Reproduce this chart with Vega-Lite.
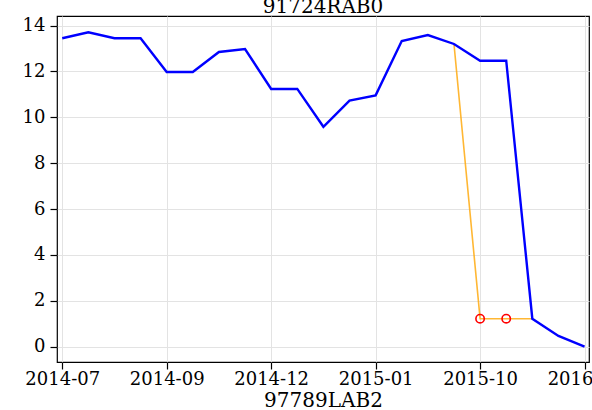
{
  "$schema": "https://vega.github.io/schema/vega-lite/v6.json",
  "width": 532,
  "height": 346,
  "autosize": {"type": "none"},
  "padding": {"left": 57, "top": 16, "right": 3, "bottom": 48},
  "background": "white",
  "title": {"text": "91724RAB0", "fontSize": 20, "font": "DejaVu Serif", "fontWeight": "normal", "baseline": "alphabetic", "offset": 3, "dy": 20, "color": "black"},
  "config": {
    "view": {"stroke": "black", "strokeWidth": 1.2},
    "axis": {
      "domain": false,
      "tickColor": "black",
      "tickSize": 7,
      "tickWidth": 1.2,
      "labelFont": "DejaVu Serif",
      "labelFontSize": 18,
      "labelColor": "black",
      "labelPadding": 2,
      "gridColor": "#e3e3e3",
      "gridWidth": 1,
      "titleFont": "DejaVu Serif",
      "titleFontSize": 20,
      "titleFontWeight": "normal",
      "titleColor": "black"
    }
  },
  "data": {
    "values": [
      {"idx": 0, "value": 13.45, "series": "raw"},
      {"idx": 1, "value": 13.71, "series": "raw"},
      {"idx": 2, "value": 13.45, "series": "raw"},
      {"idx": 3, "value": 13.45, "series": "raw"},
      {"idx": 4, "value": 11.98, "series": "raw"},
      {"idx": 5, "value": 11.98, "series": "raw"},
      {"idx": 6, "value": 12.85, "series": "raw"},
      {"idx": 7, "value": 12.98, "series": "raw"},
      {"idx": 8, "value": 11.24, "series": "raw"},
      {"idx": 9, "value": 11.24, "series": "raw"},
      {"idx": 10, "value": 9.59, "series": "raw"},
      {"idx": 11, "value": 10.73, "series": "raw"},
      {"idx": 12, "value": 10.96, "series": "raw"},
      {"idx": 13, "value": 13.33, "series": "raw"},
      {"idx": 14, "value": 13.59, "series": "raw"},
      {"idx": 15, "value": 13.2, "series": "raw"},
      {"idx": 16, "value": 12.47, "series": "raw"},
      {"idx": 17, "value": 12.47, "series": "raw"},
      {"idx": 18, "value": 1.22, "series": "raw"},
      {"idx": 19, "value": 0.47, "series": "raw"},
      {"idx": 20, "value": 0.0, "series": "raw"},
      {"idx": 15, "value": 13.2, "series": "adjusted"},
      {"idx": 16, "value": 1.22, "series": "adjusted"},
      {"idx": 17, "value": 1.22, "series": "adjusted"},
      {"idx": 18, "value": 1.22, "series": "adjusted"},
      {"idx": 16, "value": 1.22, "series": "flag"},
      {"idx": 17, "value": 1.22, "series": "flag"}
    ]
  },
  "encoding": {
    "x": {
      "field": "idx",
      "type": "quantitative",
      "scale": {"domain": [-0.2, 20.17], "nice": false, "zero": false},
      "axis": {
        "title": "97789LAB2",
        "titlePadding": 2,
        "labelPadding": 1,
        "labelFlush": false,
        "labelOverlap": false,
        "values": [0, 4, 8, 12, 16, 20],
        "labelExpr": "datum.value == 0 ? '2014-07' : datum.value == 4 ? '2014-09' : datum.value == 8 ? '2014-12' : datum.value == 12 ? '2015-01' : datum.value == 16 ? '2015-10' : '2016-01'"
      }
    },
    "y": {
      "field": "value",
      "type": "quantitative",
      "scale": {"domain": [-0.667, 14.42], "nice": false, "zero": false},
      "axis": {"title": null, "labelPadding": 5, "values": [0, 2, 4, 6, 8, 10, 12, 14]}
    }
  },
  "layer": [
    {
      "transform": [{"filter": "datum.series == 'adjusted'"}],
      "mark": {"type": "line", "color": "orange", "opacity": 0.8, "strokeWidth": 1.6}
    },
    {
      "transform": [{"filter": "datum.series == 'raw'"}],
      "mark": {"type": "line", "color": "#0000ff", "strokeWidth": 2.4}
    },
    {
      "transform": [{"filter": "datum.series == 'flag'"}],
      "mark": {"type": "point", "color": "red", "filled": false, "size": 70, "strokeWidth": 1.6, "opacity": 1}
    }
  ]
}
